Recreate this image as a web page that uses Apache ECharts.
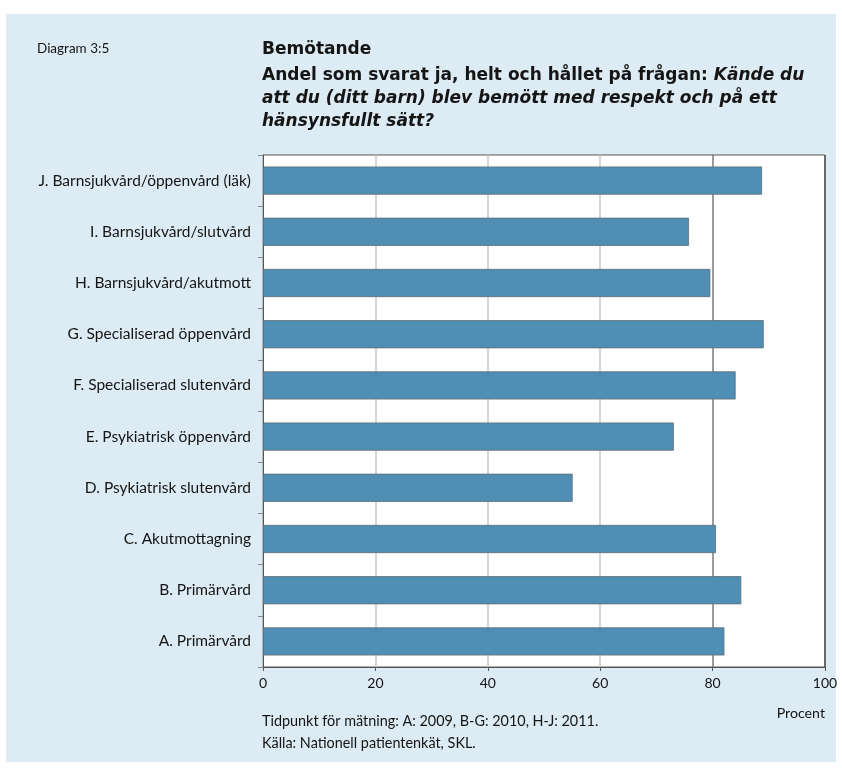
<!DOCTYPE html>
<html>
<head>
<meta charset="utf-8">
<script src="https://cdn.jsdelivr.net/npm/echarts@6/dist/echarts.min.js"></script>
<style>
html,body{margin:0;padding:0;background:#fff;}
#c{width:842px;height:771px;}
</style>
</head>
<body>
<div id="c"></div>
<script>
const categories = [
  "A. Primärvård",
  "B. Primärvård",
  "C. Akutmottagning",
  "D. Psykiatrisk slutenvård",
  "E. Psykiatrisk öppenvård",
  "F. Specialiserad slutenvård",
  "G. Specialiserad öppenvård",
  "H. Barnsjukvård/akutmott",
  "I. Barnsjukvård/slutvård",
  "J. Barnsjukvård/öppenvård (läk)"
];
const values = [82.1, 85.1, 80.6, 55.1, 73.1, 84.1, 89.1, 79.6, 75.8, 88.8];
const xTicks = [0, 20, 40, 60, 80, 100];
const titleLines = [
  "Bemötande",
  "Andel som svarat ja, helt och hållet på frågan: ",
  "Kände du",
  "att du (ditt barn) blev bemött med respekt och på ett",
  "hänsynsfullt sätt?"
];
const diagramLabel = "Diagram 3:5";
const footerLines = [
  "Tidpunkt för mätning: A: 2009, B-G: 2010, H-J: 2011.",
  "Källa: Nationell patientenkät, SKL."
];
const unitLabel = "Procent";

const FONT = "Lato, 'Open Sans', sans-serif";
const TFONT = "'DejaVu Sans', sans-serif";
const chart = echarts.init(document.getElementById('c'), null, {renderer: 'canvas'});

function txt(x, y, text, font, align) {
  return {type: 'text', x: x, y: y, style: {text: text, font: font, fill: '#151515', align: align || 'left', verticalAlign: 'middle'}};
}

chart.setOption({
  animation: false,
  backgroundColor: '#ffffff',
  graphic: [
    {type: 'rect', z: -10, shape: {x: 6, y: 14, width: 830, height: 748}, style: {fill: '#dcebf4'}},
    txt(37, 49, diagramLabel, '13.5px ' + FONT),
    txt(262, 50, titleLines[0], 'bold 17px ' + TFONT),
    {type: 'text', x: 262, y: 76, style: {
      text: '{b|' + titleLines[1] + '}{bi|' + titleLines[2] + '}',
      verticalAlign: 'middle',
      rich: {
        b: {font: 'bold 17px ' + TFONT, fill: '#151515'},
        bi: {font: 'italic bold 17px ' + TFONT, fill: '#151515'}
      }
    }},
    txt(262, 99, titleLines[3], 'italic bold 17px ' + TFONT),
    txt(262, 122, titleLines[4], 'italic bold 17px ' + TFONT),
    txt(262, 721, footerLines[0], '14.4px ' + FONT),
    txt(262, 743, footerLines[1], '14.4px ' + FONT),
    txt(825, 713, unitLabel, '14.2px ' + FONT, 'right')
  ],
  grid: {
    left: 263, right: 17, top: 155, bottom: 104,
    show: true, backgroundColor: '#ffffff', borderColor: '#555', borderWidth: 1
  },
  xAxis: {
    type: 'value', min: xTicks[0], max: xTicks[xTicks.length - 1], interval: 20,
    axisLine: {show: true, lineStyle: {color: '#555', width: 1}},
    axisTick: {show: true, length: 4, lineStyle: {color: '#555'}},
    axisLabel: {color: '#151515', fontSize: 14, fontFamily: FONT, margin: 9},
    splitLine: {show: true, lineStyle: {color: ['#c9c9c9', '#c9c9c9', '#c9c9c9', '#c9c9c9', '#7a7a7a', '#555'], width: 1.5}}
  },
  yAxis: {
    type: 'category', data: categories,
    axisLine: {show: true, lineStyle: {color: '#555', width: 1}},
    axisTick: {show: true, length: 5, lineStyle: {color: '#888'}},
    axisLabel: {color: '#151515', fontSize: 15.5, fontFamily: FONT, margin: 12}
  },
  series: [{
    type: 'bar', data: values, barWidth: '55%',
    itemStyle: {color: '#4e8fb3', borderColor: '#5f6f78', borderWidth: 0.8}
  }]
});
</script>
</body>
</html>
